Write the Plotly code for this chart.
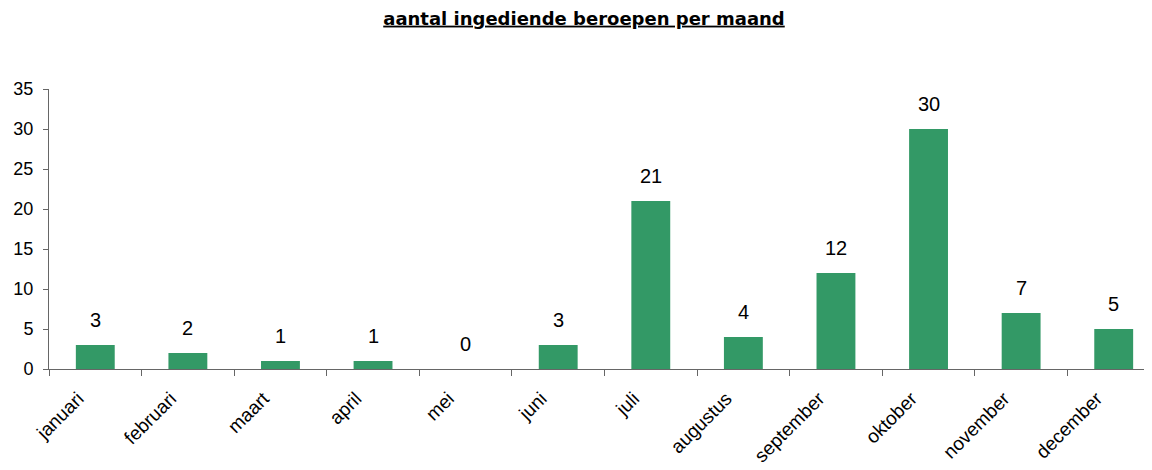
import plotly.graph_objects as go

maanden = ["januari", "februari", "maart", "april", "mei", "juni", "juli",
           "augustus", "september", "oktober", "november", "december"]
beroepen = [3, 2, 1, 1, 0, 3, 21, 4, 12, 30, 7, 5]

fig = go.Figure()

fig.add_trace(go.Bar(
    x=maanden, y=beroepen,
    marker_color="#339966", marker_line_width=0,
    width=0.42, showlegend=False, hoverinfo="x+y"
))

# waarden boven de balken
for m, v in zip(maanden, beroepen):
    fig.add_annotation(x=m, y=v, text=str(v), showarrow=False,
                       yanchor="bottom", yshift=12,
                       font=dict(size=20, color="#000000"))

fig.update_layout(
    title=dict(text="<b><u>aantal ingediende beroepen per maand</u></b>",
               x=0.5, xanchor="center", y=0.978, yanchor="middle",
               font=dict(family="DejaVu Sans, sans-serif", size=18, color="#000000")),
    width=1152, height=470,
    margin=dict(l=41, r=0, t=81, b=109),
    plot_bgcolor="white", paper_bgcolor="white",
    font=dict(family="Liberation Sans, Arial, sans-serif", size=18, color="#000000"),
)

fig.update_xaxes(
    range=[-0.5, 11.5], tickangle=-45, tickson="boundaries",
    ticks="outside", ticklen=6, tickcolor="#666666",
    showline=True, linecolor="#666666", linewidth=1,
    showgrid=False, tickfont=dict(size=19),
    ticklabelstandoff=10, ticklabelshift=-17,
)
fig.update_yaxes(
    range=[0, 35], dtick=5, ticks="outside", ticklen=5, tickcolor="#666666",
    showline=True, linecolor="#666666", linewidth=1,
    showgrid=False, zeroline=False, ticklabelstandoff=6,
    tickfont=dict(size=18),
)

fig.write_html("out.html")
